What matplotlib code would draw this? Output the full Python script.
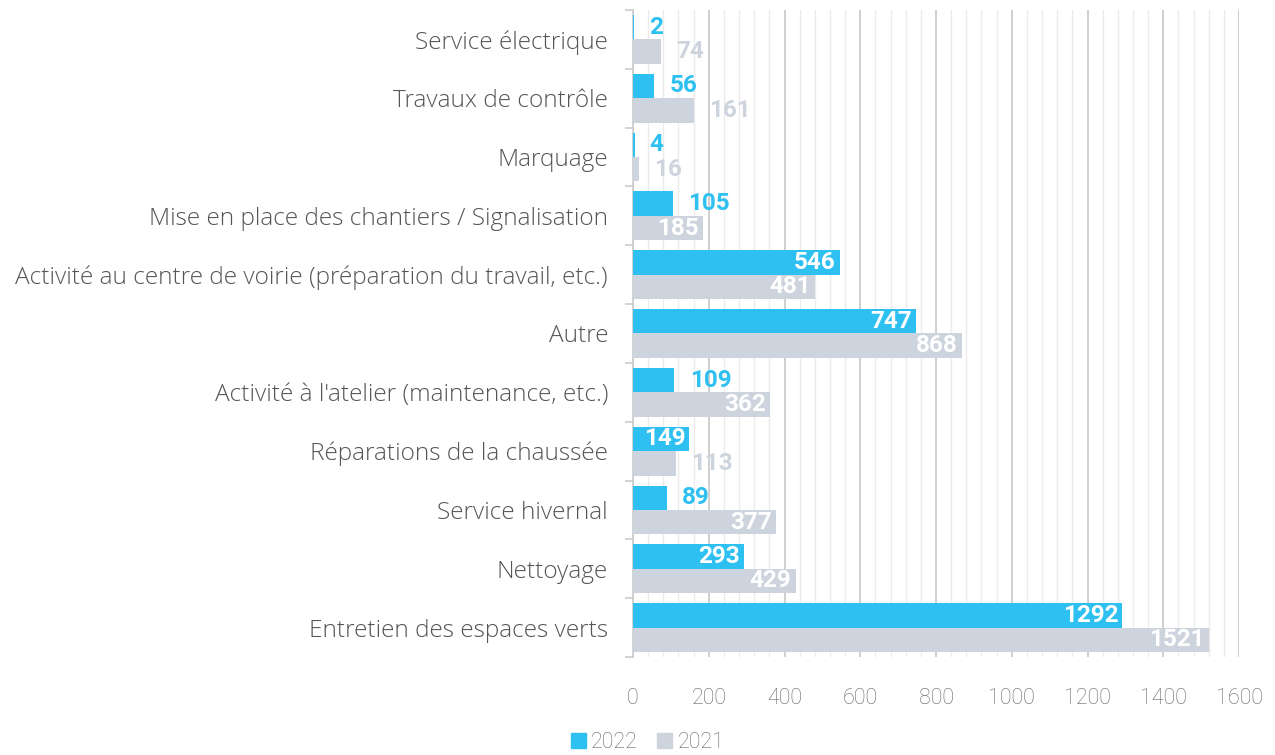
import matplotlib
matplotlib.use("Agg")
import matplotlib.pyplot as plt
import numpy as np
from matplotlib.patches import Patch

categories = [
    "Service électrique",
    "Travaux de contrôle",
    "Marquage",
    "Mise en place des chantiers / Signalisation",
    "Activité au centre de voirie (préparation du travail, etc.)",
    "Autre",
    "Activité à l'atelier (maintenance, etc.)",
    "Réparations de la chaussée",
    "Service hivernal",
    "Nettoyage",
    "Entretien des espaces verts",
]
v2022 = [2, 56, 4, 105, 546, 747, 109, 149, 89, 293, 1292]
v2021 = [74, 161, 16, 185, 481, 868, 362, 113, 377, 429, 1521]

c2022 = "#2ec0f0"
c2021 = "#cdd4dd"

plt.rcParams["font.family"] = ["Roboto", "DejaVu Sans"]

fig = plt.figure(figsize=(12.75, 7.55), dpi=100)
ax = fig.add_axes([0.4965, 0.1298, 0.4753, 0.857])

y = np.arange(len(categories))
h = 0.415
ax.barh(y - h / 2, v2022, height=h, color=c2022, zorder=3)
ax.barh(y + h / 2, v2021, height=h, color=c2021, zorder=3)

ax.set_xlim(0, 1600)
ax.set_ylim(len(categories) - 0.5, -0.5)

# grid
ax.set_xticks(np.arange(0, 1601, 200))
ax.set_xticks(np.arange(0, 1601, 40), minor=True)
ax.grid(axis="x", which="major", color="#cccccc", lw=1.3, zorder=0)
ax.grid(axis="x", which="minor", color="#ebebeb", lw=1.0, zorder=0)
ax.tick_params(axis="x", which="both", length=0, pad=22, labelsize=15.5,
               labelcolor="#666666")
for lab in ax.get_xticklabels():
    lab.set_fontweight("light")

ax.set_yticks(y)
ax.set_yticklabels(categories, fontsize=17.6, color="#555555",
                   family=["Open Sans", "DejaVu Sans"], fontweight="light")
ax.set_yticks(np.arange(-0.5, len(categories), 1), minor=True)
ax.tick_params(axis="y", which="major", length=0, pad=18)
ax.tick_params(axis="y", which="minor", length=6, color="#cccccc", width=1.2)

for s in ["top", "right", "bottom"]:
    ax.spines[s].set_visible(False)
ax.spines["left"].set_color("#cccccc")
ax.spines["left"].set_linewidth(1.2)

# value labels
def label(vals, offs, color, thresh):
    for yi, v in zip(y, vals):
        if v >= thresh:
            ax.annotate(str(v), (v, yi + offs), xytext=(-3, 0),
                        textcoords="offset points", ha="right", va="center",
                        color="white", fontsize=17.5, fontweight="bold", zorder=4)
        else:
            ax.annotate(str(v), (v, yi + offs), xytext=(11, 0),
                        textcoords="offset points", ha="left", va="center",
                        color=color, fontsize=17.5, fontweight="bold", zorder=4)

label(v2022, -h / 2, c2022, 140)
label(v2021, h / 2, c2021, 180)

handles = [Patch(color=c2022, label="2022"), Patch(color=c2021, label="2021")]
leg = fig.legend(handles=handles, loc="center", bbox_to_anchor=(0.508, 0.017),
                 ncol=2, frameon=False, fontsize=15.5, handlelength=0.7,
                 handleheight=0.7, handletextpad=0.25, columnspacing=0.9)
for t in leg.get_texts():
    t.set_color("#666666")
    t.set_fontweight("light")

fig.savefig("out.png", dpi=100)
